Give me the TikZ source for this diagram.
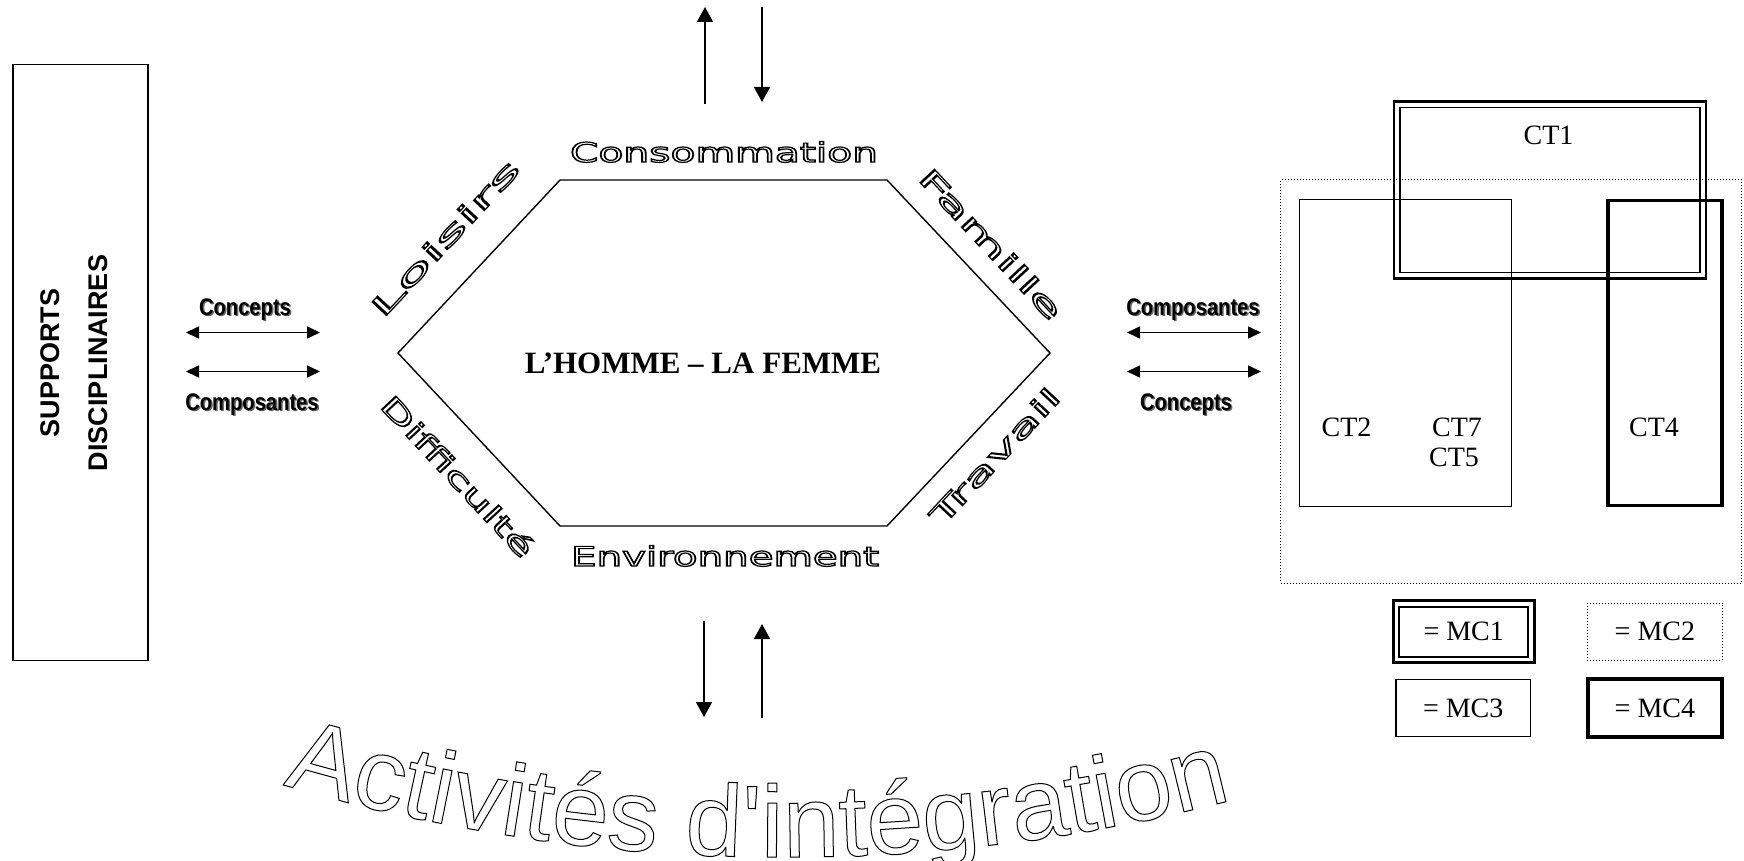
\documentclass[tikz,border=0pt]{standalone}
\usepackage{fontspec}
\setmainfont{Liberation Serif}
\newfontfamily\arialf{Liberation Sans}
\newfontfamily\dejavuf{DejaVu Sans}
\usetikzlibrary{arrows.meta,decorations.text}
\newcommand{\outon}[1]{\special{pdf:literal direct 1 Tr #1 w}}
\newcommand{\outoff}{\special{pdf:literal direct 0 Tr}}
\newcommand{\hexlab}[2]{\resizebox{#1}{\height}{\dejavuf\fontsize{13.5}{14}\selectfont\outon{0.6}#2\outoff}}
\newcommand{\shadtxt}[1]{\scalebox{0.84}[1]{\makebox[0pt][l]{\hspace{0.9pt}\raisebox{-0.8pt}{\textcolor{black!60}{#1}}}#1}}
\newcommand{\actfont}{\arialf\fontsize{51}{51}\selectfont\outon{0.5}}
\begin{document}
\begin{tikzpicture}[x=0.5pt,y=-0.5pt,
  arr/.style={line width=0.8pt,-{Triangle[length=7.5pt,width=8pt]}},
  dblarr/.style={line width=0.8pt,{Triangle[length=6.5pt,width=6pt]}-{Triangle[length=6.5pt,width=6pt]}},
  lab/.style={font=\arialf\bfseries\fontsize{12}{13}\selectfont, inner sep=0},
  suplab/.style={font=\arialf\bfseries\fontsize{13.5}{15}\selectfont, inner sep=0, rotate=90},
  ctlab/.style={font=\fontsize{14}{16}\selectfont, inner sep=0},
  hexline/.style={line width=0.7pt},
  hexlabst/.style={inner sep=0},
  mcone/.style={draw, line width=1.35pt, inner sep=0},
  mconein/.style={draw, line width=0.85pt, inner sep=0},
  mctwo/.style={draw, line width=0.5pt, dash pattern=on 0.5pt off 1pt, inner sep=0},
  mcthree/.style={draw, line width=0.75pt, inner sep=0},
  mcfour/.style={draw, line width=1.8pt, inner sep=0}
]
\useasboundingbox (0,0) rectangle (1744,861);

% left support box
\node[draw, line width=0.75pt, minimum width=67.5pt, minimum height=298pt, inner sep=0] (supports) at (80.5,362.5) {};
\node[suplab] (sup1) at (50.5,363) {SUPPORTS};
\node[suplab] (sup2) at (98,363) {DISCIPLINAIRES};

% left double arrows
\coordinate (la1w) at (186,332.5); \coordinate (la1e) at (320,332.5);
\coordinate (la2w) at (186,371.5); \coordinate (la2e) at (320,371.5);
\draw[dblarr] (la1w) -- (la1e);
\draw[dblarr] (la2w) -- (la2e);
\node[lab] (lconc) at (245,310) {\shadtxt{Concepts}};
\node[lab] (lcomp) at (252,405) {\shadtxt{Composantes}};

% hexagon
\coordinate (h1) at (398,353); \coordinate (h2) at (560,180);
\coordinate (h3) at (887,180); \coordinate (h4) at (1050,353);
\coordinate (h5) at (887,526); \coordinate (h6) at (560,526);
\draw[hexline] (h1) -- (h2) -- (h3) -- (h4) -- (h5) -- (h6) -- cycle;
\node[font=\bfseries\fontsize{15.5}{18}\selectfont, inner sep=0] (homme) at (703,363) {L’HOMME – LA FEMME};

\node[hexlabst] (conso) at (724,152) {\hexlab{154pt}{Consommation}};
\node[hexlabst] (envir) at (725,556) {\hexlab{154pt}{Environnement}};
\node[hexlabst, rotate=47] (lois) at (445,238) {\hexlab{102pt}{Loisirs}};
\node[hexlabst, rotate=-47] (fam) at (991,244) {\hexlab{98pt}{Famille}};
\node[hexlabst, rotate=-47] (diff) at (458,476) {\hexlab{105pt}{Difficulté}};
\node[hexlabst, rotate=47] (trav) at (995,456) {\hexlab{88pt}{Travail}};

% vertical arrows
\coordinate (tu1) at (705,104); \coordinate (tu2) at (705,7);
\coordinate (td1) at (762,7); \coordinate (td2) at (762,102);
\draw[arr] (tu1) -- (tu2);
\draw[arr] (td1) -- (td2);
\coordinate (bd1) at (704,621); \coordinate (bd2) at (704,717);
\coordinate (bu1) at (762,718); \coordinate (bu2) at (762,624);
\draw[arr] (bd1) -- (bd2);
\draw[arr] (bu1) -- (bu2);

% right double arrows
\coordinate (ra1w) at (1127,332.5); \coordinate (ra1e) at (1261,332.5);
\coordinate (ra2w) at (1127,371.5); \coordinate (ra2e) at (1261,371.5);
\draw[dblarr] (ra1w) -- (ra1e);
\draw[dblarr] (ra2w) -- (ra2e);
\node[lab] (rcomp) at (1193,310) {\shadtxt{Composantes}};
\node[lab] (rconc) at (1186,405) {\shadtxt{Concepts}};

% right composite boxes
\node[mctwo, minimum width=230.5pt, minimum height=201.5pt] (mc2box) at (1511,381.5) {};
\node[mcthree, minimum width=106pt, minimum height=153.5pt] (ct2box) at (1405.5,353) {};
\node[mcfour, minimum width=57pt, minimum height=152.5pt] (ct4box) at (1665,353) {};
\node[mcone, minimum width=156pt, minimum height=88.5pt] (ct1box) at (1550,190) {};
\node[mconein, minimum width=150pt, minimum height=82.5pt] (ct1in) at (1550,190) {};
\node[ctlab] (ct1) at (1548.5,135) {CT1};
\node[ctlab] (ct2) at (1346.5,427) {CT2};
\node[ctlab] (ct7) at (1457,427) {CT7};
\node[ctlab] (ct5) at (1454,457) {CT5};
\node[ctlab] (ct4) at (1654,427) {CT4};

% legend
\node[mcone, minimum width=70.5pt, minimum height=31pt] (mc1) at (1463.7,631.7) {};
\node[mconein, minimum width=64.5pt, minimum height=25pt, font=\fontsize{14}{16}\selectfont] (mc1in) at (1463.7,631.7) {= MC1};
\node[mctwo, minimum width=67.5pt, minimum height=28.7pt, font=\fontsize{14}{16}\selectfont] (mc2) at (1654.9,631.7) {= MC2};
\node[mcthree, minimum width=67.2pt, minimum height=28.5pt, font=\fontsize{14}{16}\selectfont] (mc3) at (1463.2,707.9) {= MC3};
\node[mcfour, minimum width=67pt, minimum height=29pt, font=\fontsize{14}{16}\selectfont] (mc4) at (1654.9,707.9) {= MC4};

% arched title (last: outline mode)
\coordinate (actstart) at (283,784.6);
\path[decorate, decoration={text along path, text={|\actfont|Activités d'intégration}}]
  (actstart) arc[start angle=106.43, end angle=72, radius=1775];
\end{tikzpicture}
\end{document}
